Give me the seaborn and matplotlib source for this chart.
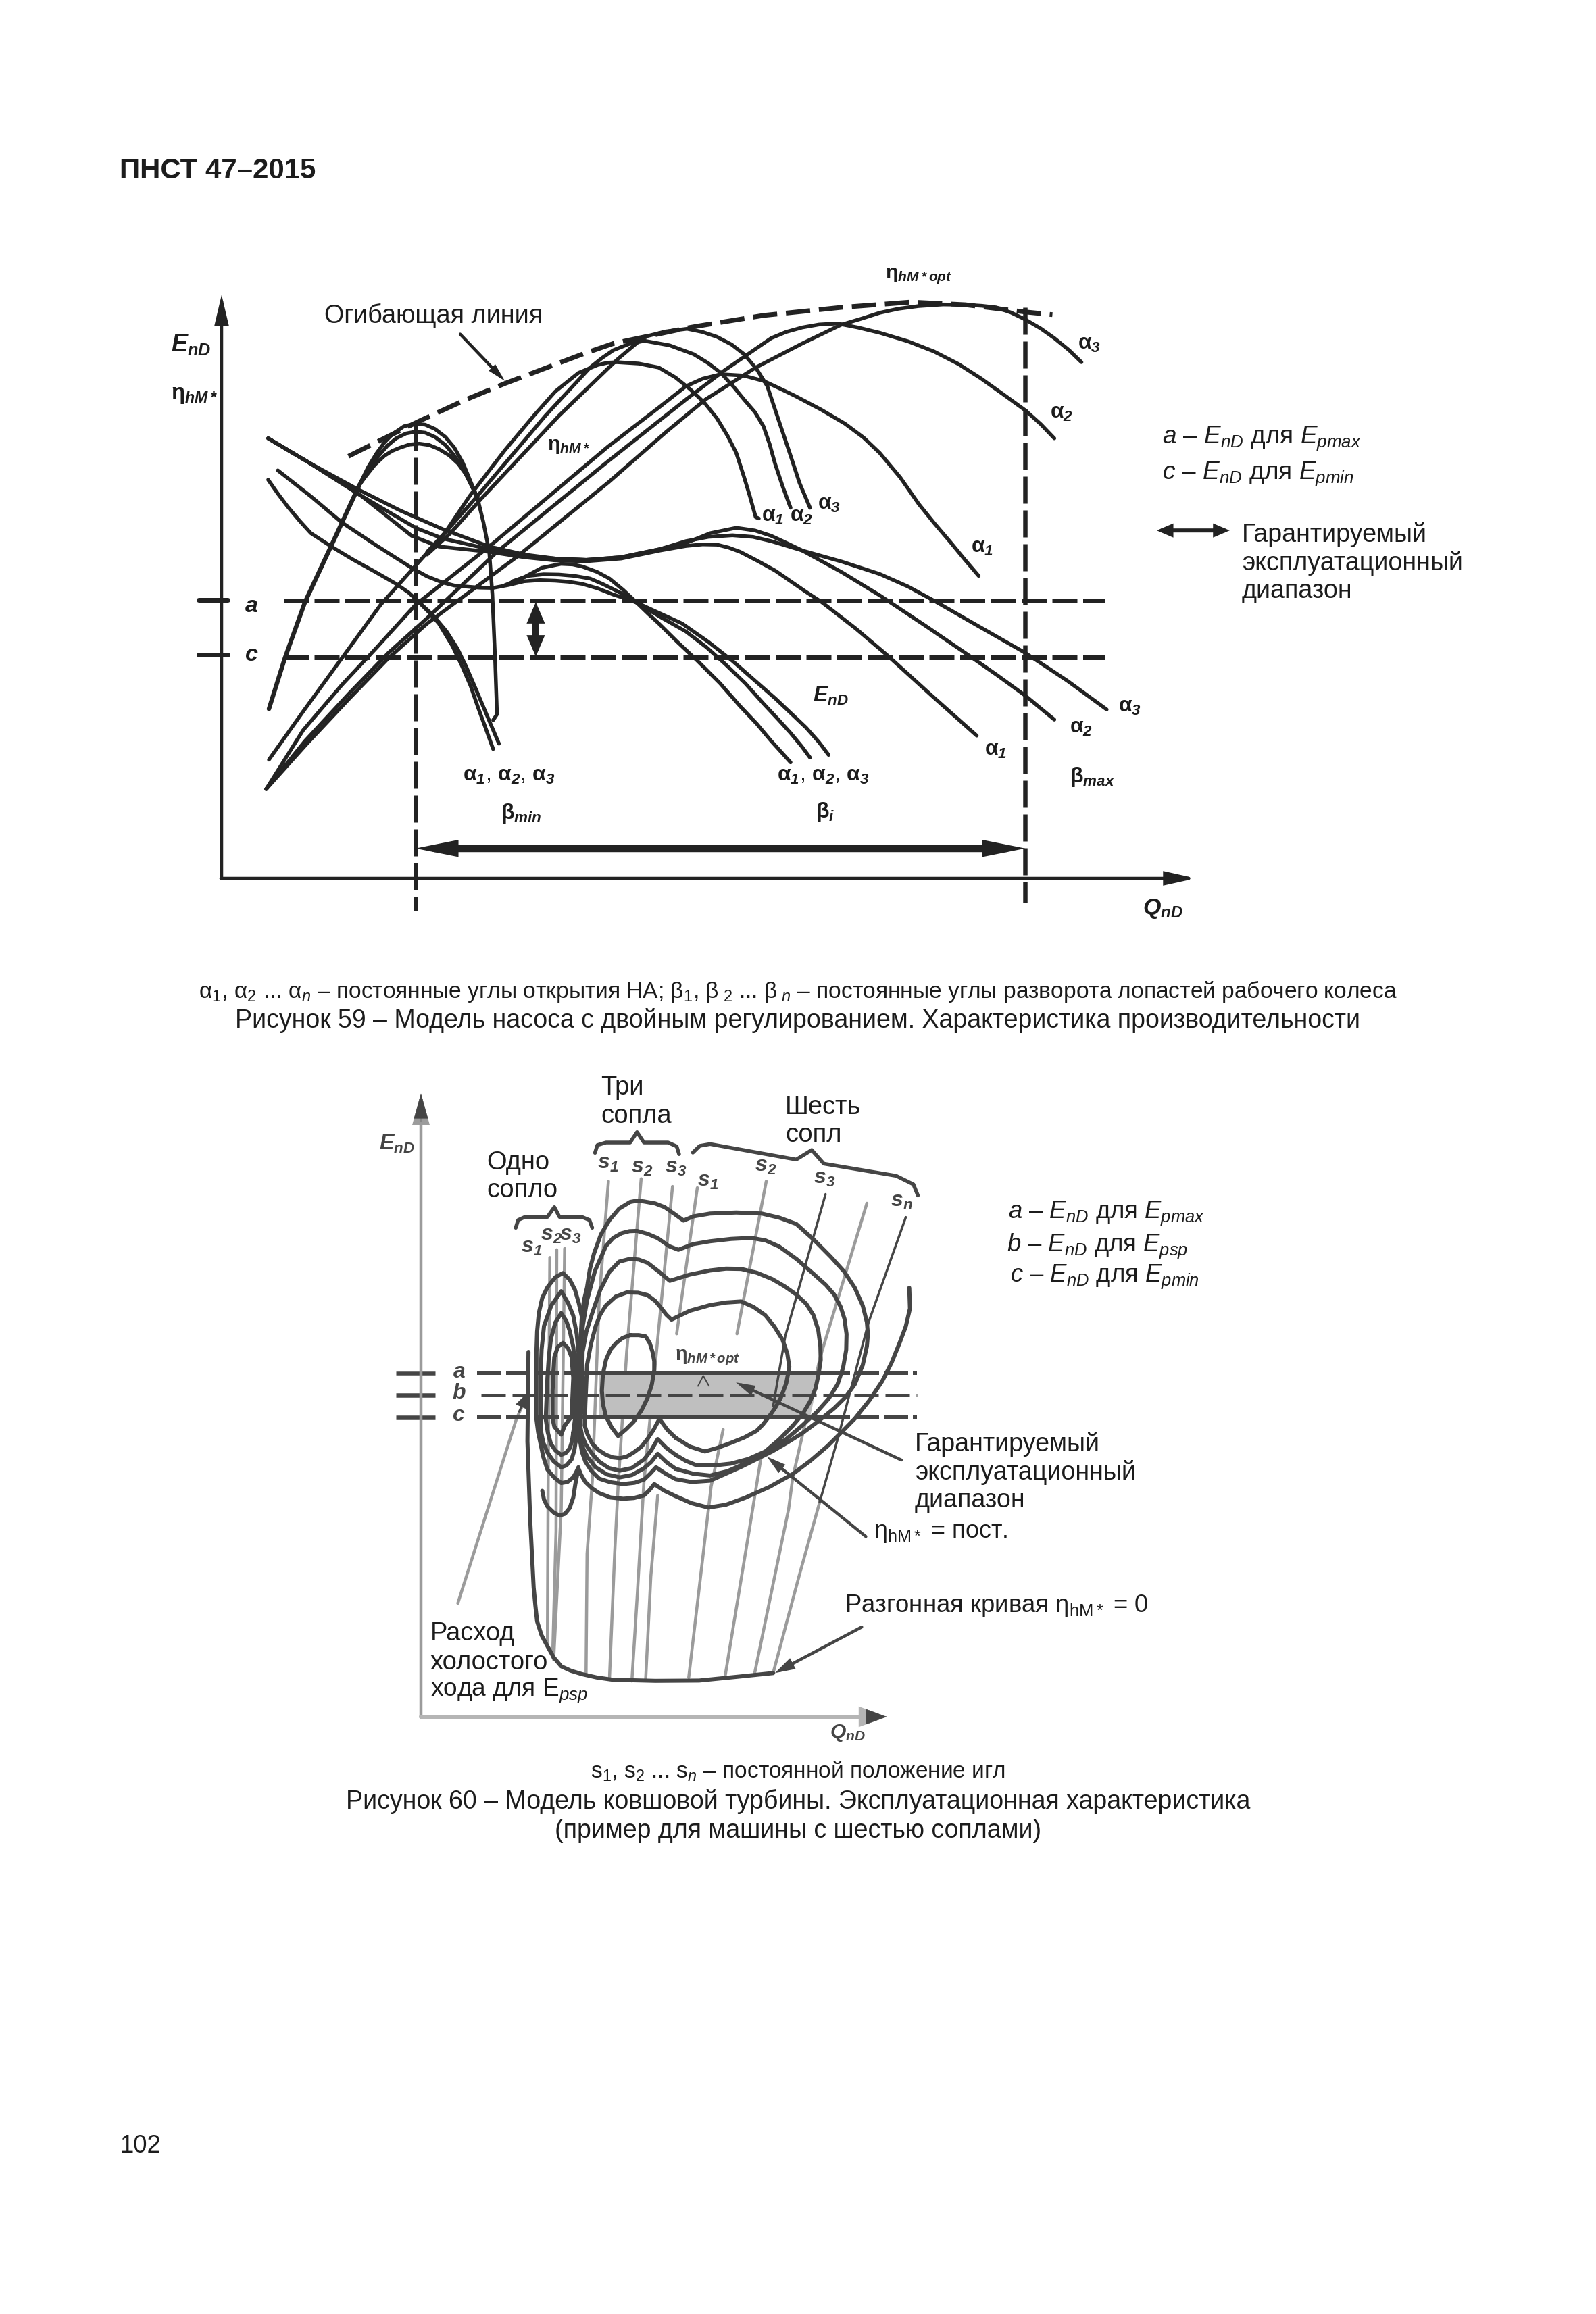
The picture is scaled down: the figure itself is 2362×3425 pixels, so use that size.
import matplotlib
matplotlib.use("Agg")
import matplotlib.pyplot as plt
import seaborn as sns

envelope = [(327,1580),(440,1662),(510,1712),(630,1792),(730,1852),(830,1907),(930,1962),(1010,2002),(1200,2060),
            (1227,2067),(1397,2107),(1597,2137),(1777,2157),(1917,2147),(2072,2120),(2142,2110)]
eta_min_shared = [(122,634),(163,824),(215,1034),(285,1252),(355,1472)]
eta_min_a = [(355,1472),(378,1540),(400,1592),(420,1632),(440,1662),(470,1692),(500,1702),(525,1698),(550,1682),(577,1652),(600,1612),(622,1555),(640,1492),(660,1422)]
eta_min_b = [(355,1472),(380,1530),(405,1582),(428,1620),(450,1647),(475,1665),(500,1672),(525,1668),(550,1652),(577,1622),(600,1582),(622,1535),(640,1482),(660,1422)]
eta_min_c = [(355,1472),(370,1502),(395,1548),(420,1582),(440,1600),(460,1612),(485,1624),(510,1627),(535,1622),(560,1607),(587,1583),(610,1552),(630,1512),(645,1472),(660,1422)]
eta_min_tail = [(660,1422),(675,1332),(690,1222),(698,1064),(705,824),(710,614),(700,592)]
eta_i_1 = [(122,444),(210,624),(310,824),(410,1024),(490,1154),(575,1292),(640,1432),(730,1602),(805,1732),(860,1822),
           (920,1892),(970,1922),(995,1930),(1020,1932),(1075,1927),(1127,1912),(1170,1875),(1207,1832),(1245,1780),(1277,1722),
           (1305,1655),(1327,1592),(1347,1502),(1362,1430),(1377,1352),(1385,1347)]
eta_i_2 = [(530,1222),(575,1292),(660,1432),(835,1732),(950,1912),(980,1947),(1010,1977),(1050,2000),(1090,2012),(1155,1995),(1217,1962),
           (1255,1928),(1287,1892),(1320,1840),(1347,1792),(1375,1745),(1397,1692),(1413,1625),(1427,1552),(1447,1465),(1467,1387)]
eta_i_3 = [(530,1212),(590,1292),(670,1422),(870,1732),(1020,1942),(1055,1985),(1090,2027),(1145,2047),(1200,2057),(1240,2045),(1277,2027),
           (1315,1998),(1347,1962),(1380,1905),(1407,1842),(1435,1720),(1467,1582),(1490,1480),(1517,1387)]
eta_max_1 = [(115,334),(210,554),(310,724),(400,864),(500,1024),(690,1242),(997,1617),(1127,1762),(1197,1842),(1240,1870),(1287,1887),
             (1345,1882),(1397,1862),(1437,1835),(1477,1807),(1545,1755),(1607,1702),(1655,1650),(1697,1592),(1750,1500),(1797,1402),
             (1837,1330),(1877,1262),(1915,1195),(1952,1132)]
eta_max_2 = [(115,334),(215,514),(330,694),(430,844),(530,974),(710,1222),(997,1562),(1197,1792),(1297,1902),(1417,2022),(1455,2045),
             (1497,2062),(1540,2073),(1587,2077),(1640,2062),(1697,2042),(1770,2010),(1837,1972),(1900,1925),(1957,1872),(2015,1812),
             (2072,1752),(2112,1700),(2147,1647)]
eta_max_3 = [(115,334),(220,504),(330,674),(430,824),(530,954),(760,1202),(997,1482),(1147,1672),(1247,1792),(1377,1912),(1497,2002),
             (1597,2072),(1650,2095),(1697,2117),(1745,2132),(1797,2142),(1860,2148),(1917,2147),(1960,2143),(1997,2137),(2035,2118),
             (2072,2092),(2112,2058),(2147,2022),(2185,1977),(2217,1932)]
head_min_1 = [(120,1492),(145,1440),(170,1392),(200,1340),(230,1292),(285,1240),(340,1192),(395,1148),(450,1102),(482,1070),(510,1032),
              (535,995),(560,954),(595,870),(620,794),(642,720),(660,644),(680,565),(700,484)]
head_min_2 = [(510,1032),(545,985),(580,924),(608,860),(630,794),(655,710),(680,624),(715,504)]
head_i_1 = [(145,1527),(230,1430),(310,1332),(400,1245),(490,1162),(530,1130),(570,1107),(600,1096),(630,1092),(665,1088),(700,1087),
            (740,1098),(780,1112),(820,1116),(860,1114),(895,1110),(930,1102),(970,1085),(1010,1062),(1040,1048),(1070,1032),(1100,990),
            (1127,954),(1175,885),(1227,814),(1285,730),(1337,644),(1380,578),(1417,514),(1467,434)]
head_i_3 = [(730,1097),(755,1112),(780,1127),(825,1162),(875,1177),(905,1175),(930,1167),(968,1147),(1000,1122),(1035,1080),(1070,1032),
            (1125,995),(1187,954),(1255,885),(1317,814),(1375,740),(1427,674),(1470,615),(1507,564),(1540,510),(1565,462)]
head_i_2 = [(750,1112),(790,1132),(830,1138),(870,1137),(910,1132),(950,1122),(982,1102),(1010,1082),(1040,1060),(1070,1032),(1135,975),
            (1197,924),(1250,865),(1297,804),(1350,730),(1397,654),(1435,595),(1467,544),(1495,495),(1517,452)]
head_max_3 = [(120,1647),(230,1552),(350,1457),(460,1377),(570,1307),(690,1242),(780,1212),(860,1197),(940,1192),(1030,1202),(1130,1232),
              (1165,1245),(1200,1257),(1260,1292),(1327,1312),(1375,1302),(1417,1282),(1457,1255),(1497,1227),(1600,1185),(1697,1139),
              (1770,1092),(1837,1039),(1950,945),(2072,844),(2180,740),(2282,632)]
head_max_2 = [(120,1647),(230,1552),(360,1432),(500,1312),(570,1272),(690,1232),(780,1207),(860,1197),(940,1192),(1030,1202),(1130,1232),
              (1197,1262),(1255,1278),(1317,1284),(1370,1278),(1417,1262),(1497,1227),(1600,1145),(1697,1059),(1815,945),(1927,834),
              (2000,760),(2072,684),(2147,594)]
head_max_1 = [(120,1647),(230,1552),(360,1432),(490,1282),(560,1242),(690,1222),(780,1202),(860,1190),(940,1187),(1030,1197),(1130,1227),
              (1197,1244),(1240,1250),(1277,1249),(1307,1238),(1337,1222),(1382,1188),(1427,1152),(1467,1112),(1507,1072),(1547,1034),
              (1635,935),(1717,834),(1830,685),(1947,534)]
top_level_a = [160, 2277]
top_level_c = [160, 2277]
E_a, E_c = 1039, 828
Q_beta_min, Q_beta_max = 500, 2072

contour_0 = [(1417,1659),(1419,1579),(1407,1510),(1389,1446),(1366,1370),(1339,1299),(1302,1225),(1259,1153),(1220,1100),(1179,1046),
             (1130,990),(1079,939),(1010,888),(939,846),(885,820),(834,809),(785,826),(739,853),(705,875),(677,900),(662,875),(647,856),
             (618,846),(587,843),(550,848),(517,865),(495,885),(477,908),(465,935),(457,961),(448,900),(442,848),(436,825),(432,808),
             (418,785),(402,778),(385,790),(367,813),(357,840),(352,874)]
contour_1 = [(467,1551),(473,1610),(482,1661),(490,1730),(502,1791),(522,1865),(547,1921),(575,1965),(607,1991),(627,1996),(647,1993),
             (680,1985),(707,1971),(735,1945),(762,1919),(790,1935),(839,1946),(915,1950),(989,1946),(1040,1930),(1089,1906),(1140,1845),
             (1189,1779),(1228,1722),(1259,1659),(1282,1590),(1294,1526),(1297,1480),(1294,1433),(1282,1360),(1259,1286),(1232,1236),
             (1199,1193),(1155,1145),(1109,1099),(1065,1062),(1019,1026),(930,967),(839,913),(785,908),(739,919),(710,940),(682,965),
             (665,940),(647,917),(620,905),(587,900),(550,907),(517,921),(495,950),(477,987),(467,1025),(462,1065),(457,1152),(457,1311),(467,1551)]
contour_2 = [(739,959),(712,985),(687,1017),(668,985),(647,961),(612,935),(577,926),(540,937),(507,965),(483,1005),(467,1048),(460,1085),
             (457,1126),(459,1211),(462,1411),(470,1515),(482,1611),(505,1725),(537,1821),(558,1852),(582,1870),(605,1878),(627,1879),
             (657,1868),(687,1851),(720,1820),(747,1806),(790,1828),(839,1839),(900,1848),(959,1852),(1000,1842),(1039,1819),(1090,1770),
             (1139,1713),(1175,1670),(1199,1633),(1218,1585),(1229,1539),(1235,1480),(1234,1419),(1225,1350),(1209,1286),(1183,1230),
             (1149,1179),(1105,1125),(1059,1073),(1000,1022),(939,979),(890,950),(839,933),(790,940),(739,959)]
contour_3 = [(739,1013),(712,1040),(687,1074),(668,1030),(647,995),(612,962),(577,952),(545,962),(517,987),(495,1020),(477,1056),(467,1090),
             (462,1126),(467,1211),(469,1411),(480,1490),(497,1561),(520,1650),(547,1721),(575,1760),(607,1771),(632,1768),(657,1756),
             (690,1722),(722,1686),(780,1710),(839,1726),(885,1733),(929,1732),(975,1717),(1019,1693),(1055,1665),(1089,1633),(1118,1597),
             (1139,1553),(1153,1495),(1159,1433),(1160,1380),(1154,1326),(1145,1270),(1129,1219),(1107,1170),(1079,1126),(1040,1073),
             (999,1026),(950,997),(899,979),(850,972),(799,973),(768,990),(739,1013)]
contour_4 = [(739,1079),(715,1110),(692,1152),(675,1110),(657,1074),(640,1045),(617,1022),(597,1006),(577,1000),(557,1003),(537,1013),
             (515,1032),(497,1056),(484,1090),(475,1126),(477,1211),(482,1361),(493,1440),(507,1511),(520,1555),(537,1591),(565,1625),
             (597,1641),(630,1640),(657,1631),(680,1608),(697,1581),(712,1555),(727,1536),(780,1570),(839,1592),(885,1602),(929,1606),
             (965,1585),(999,1553),(1025,1510),(1049,1459),(1063,1405),(1069,1353),(1060,1290),(1044,1233),(1028,1195),(1009,1159),
             (992,1130),(974,1106),(938,1080),(899,1059),(860,1040),(824,1026),(780,1045),(739,1079)]
contour_5 = [(607,1476),(632,1476),(652,1471),(664,1445),(672,1411),(677,1375),(677,1341),(670,1285),(657,1231),(640,1185),(617,1141),
             (595,1112),(572,1086),(553,1120),(537,1161),(528,1210),(525,1261),(528,1325),(537,1381),(550,1420),(567,1446),(585,1465),(607,1476)]
loop_1 = [(457,965),(450,945),(442,926),(425,908),(407,904),(387,925),(367,956),(355,1005),(347,1056),(340,1100),(335,1152),(335,1411),
          (337,1490),(342,1561),(352,1620),(367,1661),(390,1700),(412,1716),(432,1690),(447,1651),(458,1600),(467,1546)]
loop_2 = [(449,1065),(445,1030),(437,995),(422,972),(407,965),(385,988),(367,1022),(355,1060),(349,1100),(347,1311),(350,1420),(357,1511),
          (378,1590),(407,1646),(427,1600),(442,1551),(452,1480),(457,1411),(455,1280),(449,1152),(449,1065)]
loop_3 = [(442,1100),(438,1065),(432,1039),(420,1020),(407,1013),(390,1030),(377,1056),(368,1100),(362,1152),(367,1311),(371,1390),(377,1461),
          (390,1525),(407,1561),(422,1530),(432,1491),(442,1430),(447,1361),(447,1152),(442,1100)]
loop_4 = [(417,1126),(407,1091),(387,1122),(382,1152),(382,1261),(384,1330),(387,1391),(397,1430),(412,1446),(427,1425),(437,1391),(442,1311),(437,1161),(417,1126)]
runaway = [(312,1411),(309,1065),(317,760),(327,500),(332,430),(337,369),(350,315),(367,273),(385,230),(407,195),(435,178),(467,165),
           (510,152),(557,143),(680,139),(807,140),(920,155),(1022,169)]
needle_1 = [(374,1776),(369,891),(367,282)]
needle_2 = [(394,1806),(392,717),(382,230)]
needle_3 = [(417,1811),(407,804),(385,221)]
needle_4 = [(544,2071),(517,1611),(497,908),(482,630),(479,165)]
needle_5 = [(639,2081),(597,1411),(572,891),(562,630),(547,147)]
needle_6 = [(730,2051),(687,1461),(647,908),(627,456),(612,138)]
needle_7a = [(802,2046),(742,1481)]
needle_7b = [(687,856),(667,543),(652,143)]
needle_8a = [(1002,2071),(917,1481)]
needle_8b = [(877,1111),(842,891),(777,152)]
needle_9a = [(1174,2021),(1057,1471),(1022,1201)]
needle_9b = [(987,1004),(952,717),(882,152)]
needle_10 = [(1294,1986),(1159,1393),(1079,926),(1067,804),(967,160)]
needle_11a = [(1407,1932),(1299,1526),(1209,1073),(1157,830)]
needle_11b = [(1157,830),(1097,543),(1022,169)]
brace_one = [(275,1891),(282,1921),(302,1933),(367,1933),(387,1971),(402,1933),(467,1933),(489,1921),(497,1891)]
brace_three = [(505,2181),(512,2211),(537,2221),(607,2221),(627,2261),(647,2221),(717,2221),(742,2206),(749,2176)]
brace_six = [(789,2182),(809,2208),(839,2215),(1089,2155),(1134,2192),(1169,2139),(1379,2092),(1429,2059),(1442,2016)]
idle_leader = [(107,439),(277,1152),(297,1211)]
E_a2, E_b2, E_c2 = 1331, 1243, 1158
band_q = [517, 1157, 1129, 517]
band_e = [1331, 1331, 1158, 1158]
hat = [(804,1279),(819,1319),(836,1279)]

W, H = 2362, 3425
DARK, DARK2, GREY = "#222222", "#454545", "#9b9b9b"

sns.set_theme(style="white")
plt.rcParams.update({
    "font.family": ["Liberation Sans", "DejaVu Sans"],
    "mathtext.fontset": "custom",
    "mathtext.rm": "Liberation Sans",
    "mathtext.it": "Liberation Sans:italic",
    "mathtext.bf": "Liberation Sans:bold",
    "mathtext.bfit": "Liberation Sans:italic:bold",
    "mathtext.fallback": "stixsans",
    "lines.scale_dashes": False,
})
fig = plt.figure(figsize=(W / 100, H / 100), dpi=100, facecolor="white")
PX = 0.72


def chart_axes(x0, y0, sx, sy):
    ax = fig.add_axes([0, 0, 1, 1])
    ax.patch.set_alpha(0)
    ax.axis("off")
    ax.set_xlim(-x0 / sx, (W - x0) / sx)
    ax.set_ylim((y0 - H) / sy, y0 / sy)
    return ax


def curve(ax, pts, width=5.5, color=DARK, zorder=3, dash=None, cap="round"):
    q, e = zip(*pts)
    kw = dict(linestyle=(0, tuple(d * PX for d in dash))) if dash else dict(solid_capstyle=cap, solid_joinstyle="round")
    sns.lineplot(x=list(q), y=list(e), ax=ax, sort=False, estimator=None, errorbar=None, legend=False,
                 color=color, linewidth=width * PX, zorder=zorder, **kw)


def arrow(ax, start, end, width, hl, hw, color=DARK, style="-|>", zorder=5):
    ax.annotate("", xy=end, xytext=start, zorder=zorder, annotation_clip=False,
                arrowprops=dict(arrowstyle=f"{style},head_length={hl*PX},head_width={hw*PX}", mutation_scale=1,
                                lw=width * PX, color=color, shrinkA=0, shrinkB=0, joinstyle="miter"))


def T(x, y, s, size, ha="left", color="#1c1c1c", **kw):
    fig.text(x / W, 1 - y / H, s, fontsize=size * PX, ha=ha, va="center", color=color, **kw)


def B(base, sub=None):
    return rf"$\mathbf{{\{base}}}" + (rf"_{{\mathbfit{{{sub}}}}}$" if sub else "$")


# ---------------------------- Figure 59 ----------------------------
a1 = chart_axes(328, 1300, .574, .3954)
for pts in [eta_min_a, eta_min_b, eta_min_c, eta_min_tail, eta_i_1, eta_i_2, eta_i_3, eta_max_1, eta_max_2, eta_max_3,
            head_min_1, head_min_2, head_i_1, head_i_2, head_i_3, head_max_1, head_max_2, head_max_3]:
    curve(a1, pts)
curve(a1, eta_min_shared, 6.5)
curve(a1, envelope, 7, dash=(36, 13))
curve(a1, [(top_level_a[0], E_a), (top_level_a[1], E_a)], 6, dash=(37, 8.5))
curve(a1, [(top_level_c[0], E_c), (top_level_c[1], E_c)], 8, dash=(37, 8.5))
curve(a1, [(Q_beta_min, 1702), (Q_beta_min, -121)], 6.5, dash=(40, 10))
curve(a1, [(Q_beta_max, 2137), (Q_beta_max, -91)], 6.5, dash=(40, 10))
curve(a1, [(-60, 1042), (15, 1042)], 7)
curve(a1, [(-60, 837), (15, 837)], 7)
arrow(a1, (0, 0), (0, 2184), 4.5, 34, 8)
arrow(a1, (-2, 0), (2512, 0), 4.5, 36, 8)
arrow(a1, (Q_beta_min, 112), (Q_beta_max, 112), 11, 30, 6, style="<|-|>")
arrow(a1, (810, 1034), (810, 830), 10, 14, 6, style="<|-|>")
arrow(a1, (615, 2037), (730, 1862), 4.5, 16, 4)
arrow(a1, (2411, 1302), (2599, 1302), 6, 14, 6, style="<|-|>")

T(253, 510, r"$\mathbfit{E}_{\mathbfit{nD}}$", 36)
T(253, 585, B("eta", "hM*"), 33)
T(480, 467, "Огибающая линия", 37.7)
T(810, 660, B("eta", "hM*"), 30)
T(1310, 409, B("eta", "hM*opt"), 30)
T(372, 897, r"$\mathbfit{a}$", 34, ha="center")
T(372, 970, r"$\mathbfit{c}$", 34, ha="center")
for x, y, s, sb in [(1595, 509, "alpha", "3"), (1554, 611, "alpha", "2"), (1437, 810, "alpha", "1"), (1127, 764, "alpha", "1"),
                    (1169, 764, "alpha", "2"), (1210, 746, "alpha", "3"), (1457, 1110, "alpha", "1"), (1583, 1077, "alpha", "2"),
                    (1655, 1046, "alpha", "3")]:
    T(x, y, B(s, sb), 32)
trio = B("alpha", "1") + ", " + B("alpha", "2") + ", " + B("alpha", "3")
T(685, 1148, trio, 32)
T(1150, 1148, trio, 32)
T(741, 1204, B("beta", "min"), 32)
T(1207, 1202, B("beta", "i"), 32)
T(1583, 1150, B("beta", "max"), 32)
T(1203, 1030, r"$\mathbfit{E}_{\mathbfit{nD}}$", 32)
T(1691, 1345, r"$\mathbfit{Q}_{\mathbfit{nD}}$", 34)
T(1720, 649, r"$\mathit{a}$ – $\mathit{E}_{\mathit{nD}}$ для $\mathit{E}_{\mathit{pmax}}$", 37)
T(1720, 702, r"$\mathit{c}$ – $\mathit{E}_{\mathit{nD}}$ для $\mathit{E}_{\mathit{pmin}}$", 37)
T(1838, 792, "Гарантируемый", 37.6)
T(1838, 834, "эксплуатационный", 37.6)
T(1838, 875, "диапазон", 37.6)

# ---------------------------- Figure 60 ----------------------------
a2 = chart_axes(623, 2541, .51, .3827)
for pts in [needle_1, needle_2, needle_3, needle_4, needle_5, needle_6, needle_7a, needle_7b, needle_8a, needle_8b, needle_9b,
            needle_10, needle_11b, idle_leader]:
    curve(a2, pts, 4.5, GREY, zorder=2)
a2.fill(band_q, band_e, color="#bfbfbf", zorder=2.5, lw=0)
for pts in [needle_9a, needle_11a]:
    curve(a2, pts, 3.5, DARK2, zorder=2.6)
for pts in [contour_0, contour_1, contour_2, contour_3, contour_4, contour_5, loop_1, loop_2, loop_3, loop_4, runaway]:
    curve(a2, pts, 6, DARK2)
for pts in [brace_one, brace_three, brace_six]:
    curve(a2, pts, 5.5, DARK2)
curve(a2, hat, 2, DARK2)
for level, width in [(E_a2, 6), (E_c2, 6)]:
    curve(a2, [(162, level), (1439, level)], width, DARK2, dash=(36, 7))
    curve(a2, [(422, level), (1176, level)], width, DARK2, cap="butt")
    curve(a2, [(-73, level), (42, level)], 6.5, DARK2, cap="butt")
curve(a2, [(175, E_b2), (1439, E_b2)], 5, DARK2, dash=(36, 10))
curve(a2, [(-73, E_b2), (42, E_b2)], 6.5, DARK2, cap="butt")
arrow(a2, (0, -3), (0, 2411), 4.5, 36, 10, color=GREY)
arrow(a2, (0, 0), (1352, 0), 6, 30, 11, color="#b5b5b5")
arrow(a2, (0, 2300), (0, 2411), 0.5, 36, 10, color=DARK2, zorder=6)
arrow(a2, (1300, 0), (1352, 0), 0.5, 30, 11, color=DARK2, zorder=6)
arrow(a2, (285, 1180), (310, 1255), 3, 18, 7, color=DARK2)
arrow(a2, (1394, 993), (914, 1293), 4.5, 18, 5, color=DARK2, zorder=4)
arrow(a2, (1291, 697), (1004, 1006), 4.5, 18, 5, color=DARK2, zorder=4)
arrow(a2, (1279, 347), (1027, 169), 4.5, 20, 6, color=DARK2, zorder=4)

T(561, 1693, r"$\mathbfit{E}_{\mathbfit{nD}}$", 32, color=DARK2)
T(720, 1721, "Одно", 38)
T(720, 1762, "сопло", 38)
T(889, 1610, "Три", 38)
T(889, 1652, "сопла", 38)
T(1162, 1639, "Шесть", 38)
T(1162, 1680, "сопл", 38)
for x, y, sb in [(900, 1722, "1"), (950, 1728, "2"), (1000, 1728, "3"), (1048, 1748, "1"), (1133, 1726, "2"), (1220, 1744, "3"),
                 (1334, 1778, "n"), (787, 1846, "1"), (816, 1828, "2"), (844, 1828, "3")]:
    T(x, y, rf"$\mathbfit{{s}}_{{\mathbfit{{{sb}}}}}$", 32, ha="center", color=DARK2)
T(679, 2031, r"$\mathbfit{a}$", 32, ha="center", color=DARK2)
T(679, 2062, r"$\mathbfit{b}$", 32, ha="center", color=DARK2)
T(679, 2095, r"$\mathbfit{c}$", 32, ha="center", color=DARK2)
T(999, 2010, B("eta", "hM*opt"), 29, color=DARK2)
T(1492, 1796, r"$\mathit{a}$ – $\mathit{E}_{\mathit{nD}}$ для $\mathit{E}_{\mathit{pmax}}$", 36.5)
T(1490, 1844, r"$\mathit{b}$ – $\mathit{E}_{\mathit{nD}}$ для $\mathit{E}_{\mathit{psp}}$", 36.5)
T(1495, 1890, r"$\mathit{c}$ – $\mathit{E}_{\mathit{nD}}$ для $\mathit{E}_{\mathit{pmin}}$", 36.5)
T(1354, 2138, "Гарантируемый", 37.6)
T(1354, 2179, "эксплуатационный", 37.6)
T(1354, 2221, "диапазон", 37.6)
T(1293, 2268, r"$\mathrm{\eta}_{\mathrm{hM*}}$ = пост.", 36)
T(1250, 2377, r"Разгонная кривая $\mathrm{\eta}_{\mathrm{hM*}}$ = 0", 36.5)
T(637, 2418, "Расход", 38)
T(637, 2461, "холостого", 38)
T(637, 2503, r"хода для E$_{\mathit{psp}}$", 37)
T(1228, 2565, r"$\mathbfit{Q}_{\mathbfit{nD}}$", 30, color=DARK2)

# ---------------------------- Page text ----------------------------
T(177, 253, "ПНСТ 47–2015", 42, fontweight="bold")
T(1181, 1468, r"$\mathrm{\alpha}_1$, $\mathrm{\alpha}_2$ ... $\mathrm{\alpha}_n$ – постоянные углы открытия НА; $\mathrm{\beta}_1$, $\mathrm{\beta}_{\ 2}$ ... $\mathrm{\beta}_{\ n}$ – постоянные углы разворота лопастей рабочего колеса", 33.5, ha="center")
T(1181, 1511, "Рисунок 59 – Модель насоса с двойным регулированием. Характеристика производительности", 37.5, ha="center")
T(1181, 2622, r"s$_1$, s$_2$ ... s$_n$ – постоянной положение игл", 33.4, ha="center")
T(1181, 2666, "Рисунок 60 – Модель ковшовой турбины. Эксплуатационная характеристика", 37.5, ha="center")
T(1181, 2710, "(пример для машины с шестью соплами)", 37.5, ha="center")
T(177, 3177, "102", 36.5)

fig.savefig("out.png", dpi=100, facecolor="white")
